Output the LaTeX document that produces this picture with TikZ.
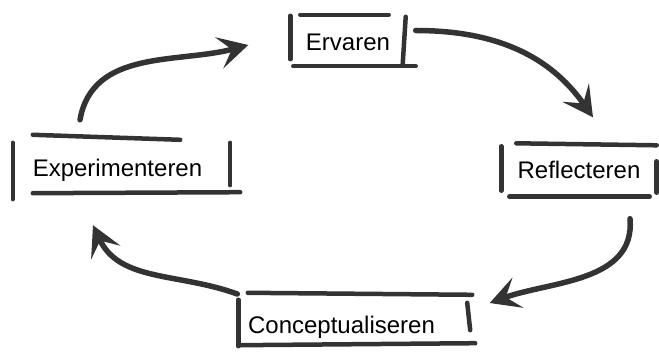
\documentclass[tikz,border=0pt]{standalone}
\usepackage{fontspec}
\setmainfont{Liberation Sans}
\usetikzlibrary{arrows.meta}

\definecolor{pen}{HTML}{333333}

\begin{document}
\begin{tikzpicture}
	[x=1pt,y=1pt,
	every node/.style={font=\fontsize{24}{27}\selectfont,inner sep=0pt},
	stroke/.style={pen,line width=4.5pt,line cap=round},
	arr/.style={pen,line width=5.5pt,line cap=round,-{Stealth[length=30pt,width=32pt,inset=13pt]}}]
		\useasboundingbox (0,0) rectangle (659,356);
		% the four stages
		\node[minimum width=115pt,minimum height=49pt](erv) at (348,313.5){Ervaren};
		\node[minimum width=155pt,minimum height=53pt](ref) at (579,186){Reflecteren};
		\node[minimum width=230pt,minimum height=54pt](con) at (341.5,29){Conceptualiseren};
		\node[minimum width=219pt,minimum height=58pt](exp) at (117.5,186){Experimenteren};
		% sketched boxes
		\draw[stroke] ([shift={(10,3)}]erv.north west) -- ([shift={(-17,3)}]erv.north east);
		\draw[stroke] ([shift={(3,1)}]erv.south west) -- ([shift={(10,1)}]erv.south east);
		\draw[stroke] ([shift={(0,2)}]erv.north west) -- ([shift={(0,8)}]erv.south west);
		\draw[stroke] ([shift={(0,1)}]erv.north east) -- ([shift={(-3,3)}]erv.south east);
		\draw[stroke] ([xshift=15pt]ref.north west) -- ([yshift=-2pt]ref.north east);
		\draw[stroke] ([xshift=8pt]ref.south west) -- ([xshift=-7pt]ref.south east);
		\draw[stroke] ([yshift=-3pt]ref.north west) -- ([yshift=6pt]ref.south west);
		\draw[stroke] ([yshift=-18pt]ref.north east) -- ([yshift=4pt]ref.south east);
		\draw[stroke] ([shift={(21.5,7)}]con.north west) -- ([shift={(15.5,5)}]con.north east);
		\draw[stroke] ([shift={(13.5,9)}]con.south west) -- ([shift={(18.5,11)}]con.south east);
		\draw[stroke] ([shift={(12,0)}]con.north west) -- ([shift={(12,8)}]con.south west);
		\draw[stroke] ([shift={(10.5,-3)}]con.north east) -- ([shift={(13.5,24)}]con.south east);
		\draw[stroke] ([shift={(25,6)}]exp.north west) -- ([shift={(-47,1)}]exp.north east);
		\draw[stroke] ([shift={(25,6)}]exp.south west) -- ([shift={(13,7)}]exp.south east);
		\draw[stroke] ([shift={(5,-2)}]exp.north west) -- ([shift={(5,0)}]exp.south west);
		\draw[stroke] ([shift={(3,-2)}]exp.north east) -- ([shift={(3,14)}]exp.south east);
		% cycle
		\draw[arr] ([shift={(-37.5,21)}]exp.north) to[out=80,in=195] ([shift={(-42,-2.5)}]erv.west);
		\draw[arr] ([shift={(10,12)}]erv.east) to[out=0,in=125] ([shift={(14,26)}]ref.north);
		\draw[arr] ([shift={(51,-22)}]ref.south) to[out=-85,in=20] ([shift={(33,24)}]con.east);
		\draw[arr] ([shift={(11,33)}]con.west) to[out=160,in=-65] ([shift={(-24.5,-26)}]exp.south);
\end{tikzpicture}
\end{document}
